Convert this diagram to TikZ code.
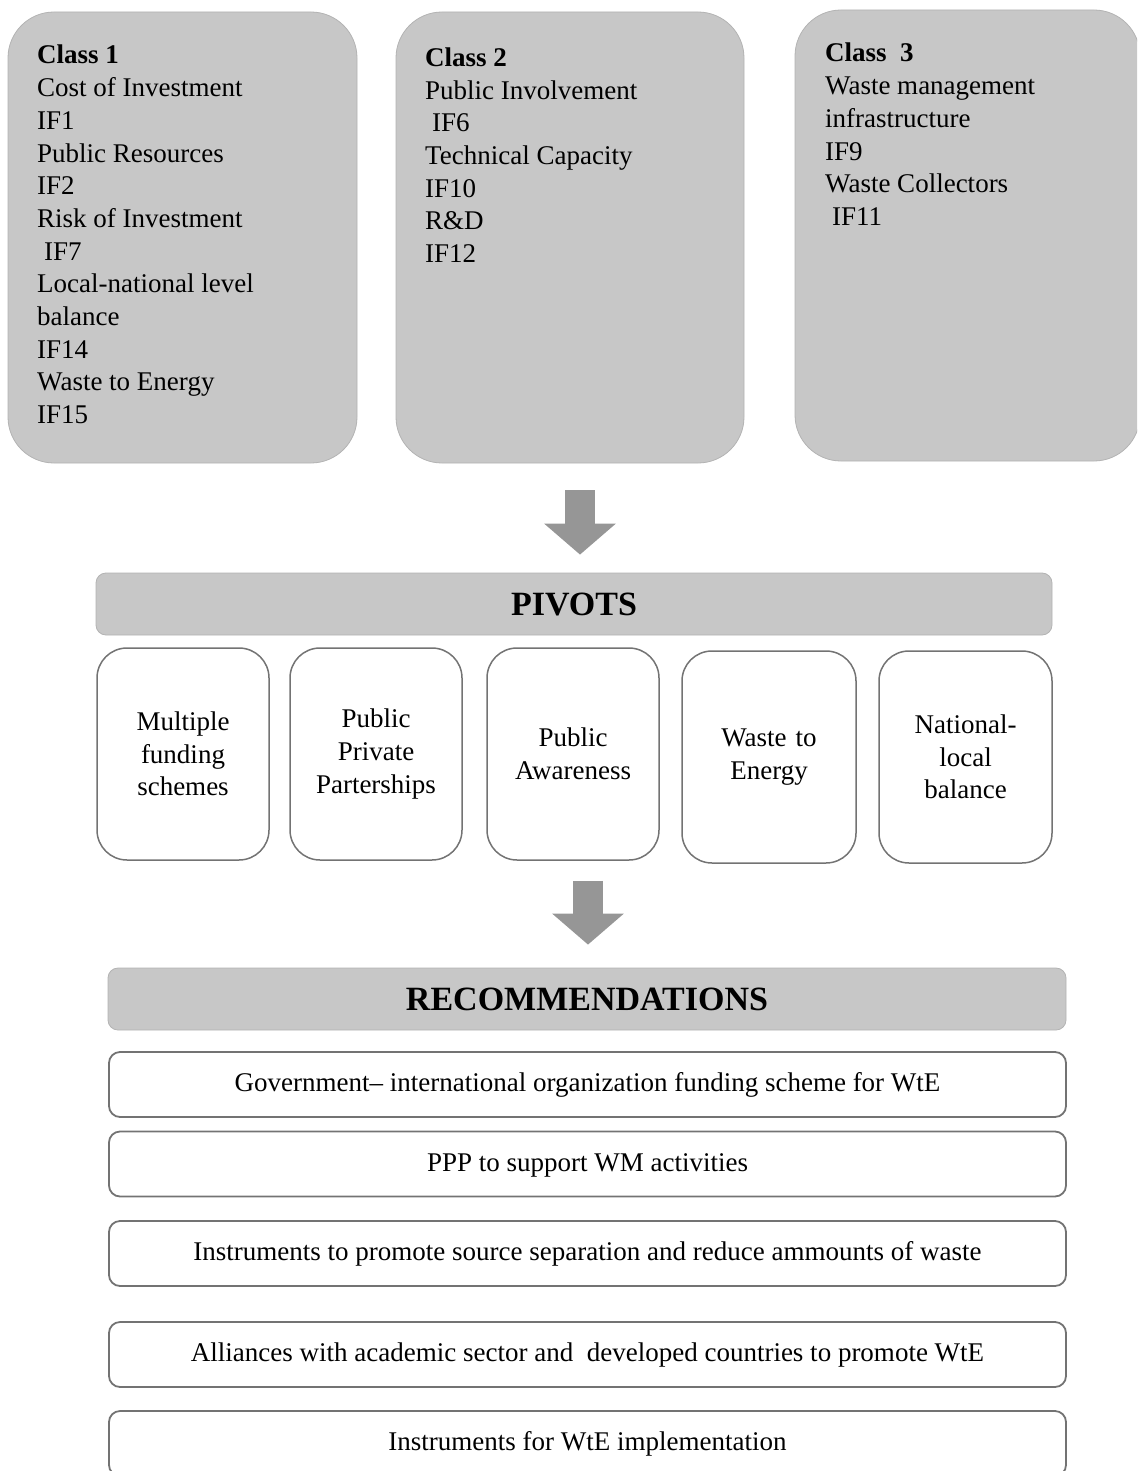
\documentclass[tikz,border=0pt]{standalone}
\usepackage{fontspec}
\setmainfont{Liberation Serif}
\definecolor{panelgray}{RGB}{199, 199, 199}
\definecolor{edgegray}{RGB}{115, 115, 115}
\definecolor{arrowgray}{RGB}{150, 150, 150}
\usepackage{tikz}
\usetikzlibrary{arrows.meta}

\begin{document}
\begin{tikzpicture}[x=1pt, y=-1pt,
    classbox/.style={rectangle, fill=panelgray, draw=panelgray!90!black, line width=0.8pt, rounded corners=46pt, minimum height=451pt, inner sep=0pt},
    classtext/.style={anchor=north west, align=left, inner sep=0pt, font=\fontsize{27}{32.7}\selectfont},
    headbar/.style={rectangle, fill=panelgray, draw=panelgray!90!black, line width=0.8pt, rounded corners=10pt, minimum height=62pt, font=\fontsize{34}{40}\selectfont\bfseries},
    pivotbox/.style={rectangle, draw=edgegray, line width=1.5pt, rounded corners=30pt, minimum width=172pt, minimum height=212pt, text width=160pt, align=center, inner sep=0pt, font=\fontsize{27}{32.7}\selectfont},
    recbox/.style={rectangle, draw=edgegray, line width=1.8pt, rounded corners=11pt, minimum width=957pt, minimum height=65pt, text height=19pt, text depth=5pt, font=\fontsize{27}{32.7}\selectfont},
    bigarrow/.style={draw=arrowgray, line width=30pt, -{Triangle[length=31pt, width=70pt]}}]
  \clip (0,0) rectangle (1137,1471);

  \node[classbox, minimum width=349pt] (cls1) at (182.5,237.5) {};
  \node[classbox, minimum width=348pt] (cls2) at (570,237.5) {};
  \node[classbox, minimum width=345pt] (cls3) at (967.5,235.5) {};
  \node[classtext] (cls1txt) at (37,45) {
    \textbf{Class 1}\\Cost of Investment\\IF1\\Public Resources\\IF2\\Risk of Investment\\
    \hspace*{7pt}IF7\\Local-national level\\balance\\IF14\\Waste to Energy\\IF15};
  \node[classtext] (cls2txt) at (425,47.5) {
    \textbf{Class 2}\\Public Involvement\\\hspace*{7pt}IF6\\Technical Capacity\\IF10\\R\&D\\IF12};
  \node[classtext] (cls3txt) at (825,43) {
    \textbf{Class~~3}\\Waste management\\infrastructure\\IF9\\Waste Collectors\\\hspace*{7pt}IF11};

  \node[headbar, minimum width=956pt] (pivots) at (574,604) {PIVOTS};
  \node[pivotbox] (pv1) at (183,754) {Multiple\\funding\\schemes};
  \node[pivotbox] (pv2) at (376,754) {Public\\Private\\Parterships};
  \node[pivotbox] (pv3) at (573,754) {Public\\Awareness};
  \node[pivotbox, minimum width=174pt] (pv4) at (769,757) {Waste to\\Energy};
  \node[pivotbox, minimum width=173pt] (pv5) at (965.5,757) {National-\\local\\balance};

  \node[headbar, minimum width=958pt] (recs) at (587,999) {RECOMMENDATIONS};
  \node[recbox] (rec1) at (587.5,1084.5) {Government-- international organization funding scheme for WtE};
  \node[recbox] (rec2) at (587.5,1164) {PPP to support WM activities};
  \node[recbox] (rec3) at (587.5,1253.5) {Instruments to promote source separation and reduce ammounts of waste};
  \node[recbox] (rec4) at (587.5,1354.5) {Alliances with academic sector and~ developed countries to promote WtE};
  \node[recbox] (rec5) at (587.5,1443.5) {Instruments for WtE implementation};

  \coordinate (arrAtop) at ([xshift=10pt, yshift=-27pt]cls2.south);
  \coordinate (arrAtip) at ([xshift=6pt, yshift=18pt]pivots.north);
  \coordinate (arrBtop) at ([xshift=15pt, yshift=-20pt]pv3.south);
  \coordinate (arrBtip) at ([xshift=1pt, yshift=23pt]recs.north);
  \draw[bigarrow] (arrAtop) -- (arrAtip);
  \draw[bigarrow] (arrBtop) -- (arrBtip);
\end{tikzpicture}
\end{document}
